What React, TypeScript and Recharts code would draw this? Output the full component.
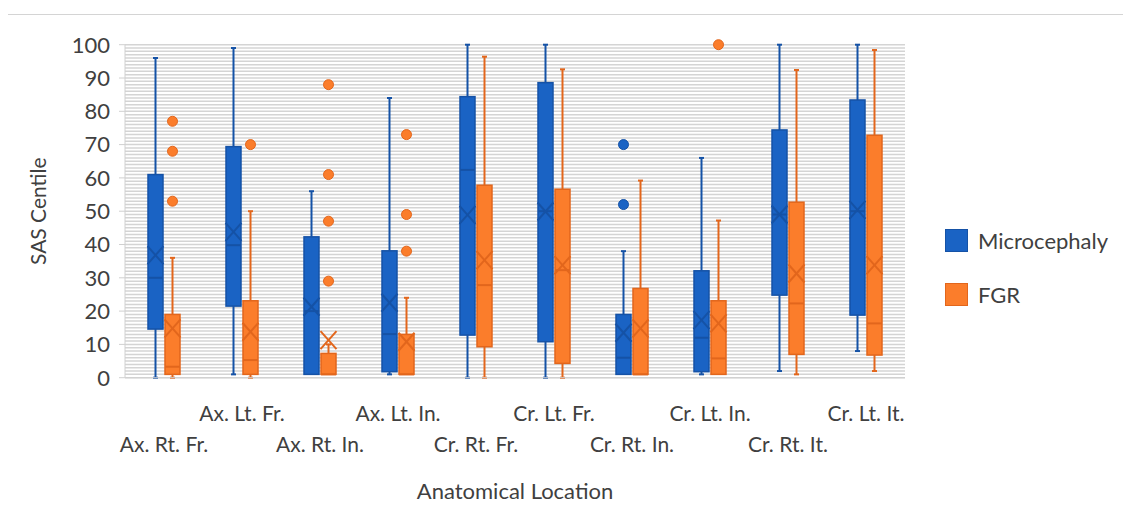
import React from 'react';
import { ComposedChart, Bar, XAxis, YAxis, CartesianGrid, Legend, Label } from 'recharts';

const categories = [
  'Ax. Rt. Fr.', 'Ax. Lt. Fr.', 'Ax. Rt. In.', 'Ax. Lt. In.', 'Cr. Rt. Fr.',
  'Cr. Lt. Fr.', 'Cr. Rt. In.', 'Cr. Lt. In.', 'Cr. Rt. It.', 'Cr. Lt. It.',
];
const seriesNames = ['Microcephaly', 'FGR'];

const microMin = [0, 1, 1, 1, 0, 0, 1, 1, 2, 8];
const microQ1 = [14.6, 21.5, 1, 1.8, 12.8, 10.8, 1, 1.8, 24.8, 18.8];
const microMedian = [30, 39.8, 20, 13.1, 62.4, 50, 6, 12, 49, 50];
const microQ3 = [61, 69.4, 42.3, 38.1, 84.4, 88.6, 19, 32.1, 74.4, 83.4];
const microMax = [96, 99, 56, 84, 100, 100, 38, 66, 100, 100];
const microMean = [36.8, 43.8, 21.3, 22.5, 48.9, 49.9, 13.5, 17.3, 49, 50.4];
const microOutliers: number[][] = [[], [], [], [], [], [], [70, 52], [], [], []];

const fgrMin = [0, 0, 1, 1, 0, 0, 1, 1, 1, 2];
const fgrQ1 = [1, 1, 1, 1, 9.3, 4.3, 1, 1, 7, 6.8];
const fgrMedian = [3.3, 5.3, 1, 1, 27.8, 32.3, 1, 5.8, 22.3, 16.3];
const fgrQ3 = [19, 23.1, 7.3, 13, 57.8, 56.6, 26.8, 23.1, 52.7, 72.8];
const fgrMax = [36, 50, 10, 24, 96.4, 92.6, 59.2, 47.2, 92.4, 98.4];
const fgrMean = [14.8, 13.8, 11.3, 10.8, 35.3, 33.8, 14.8, 16.3, 31.3, 33.8];
const fgrOutliers: number[][] = [[77, 68, 53], [70], [88, 61, 47, 29], [73, 49, 38], [], [], [], [100], [], []];

const yTicks = [0, 10, 20, 30, 40, 50, 60, 70, 80, 90, 100];
const gridValues = Array.from({ length: 101 }, (_, i) => i);

const data = categories.map((name, i) => ({
  name,
  microRange: [microMin[i], microMax[i]],
  fgrRange: [fgrMin[i], fgrMax[i]],
  micro: { min: microMin[i], q1: microQ1[i], median: microMedian[i], q3: microQ3[i], max: microMax[i], mean: microMean[i], outliers: microOutliers[i] },
  fgr: { min: fgrMin[i], q1: fgrQ1[i], median: fgrMedian[i], q3: fgrQ3[i], max: fgrMax[i], mean: fgrMean[i], outliers: fgrOutliers[i] },
}));

const BLUE = '#1a63c4';
const BLUE_DARK = '#1552a6';
const ORANGE = '#fb7d2b';
const ORANGE_DARK = '#e2661c';
const FONT = 'Lato, "Noto Sans", sans-serif';
const TEXT = '#404040';

const makeBoxShape = (key: 'micro' | 'fgr', fill: string, dark: string) => (props: any) => {
  const { x, y, width, height, payload } = props;
  if (!payload) return null;
  const s = payload[key];
  const top = Math.min(y, y + height);
  const bot = Math.max(y, y + height);
  const span = s.max - s.min || 1;
  const py = (v: number) => bot - ((v - s.min) / span) * (bot - top);
  const cx = x + width / 2;
  const yMax = py(s.max);
  const yQ3 = py(s.q3);
  const yQ1 = py(s.q1);
  const yMin = py(s.min);
  const yMed = py(s.median);
  const yMean = py(s.mean);
  return (
    <g>
      {yMax < yQ3 - 0.5 && (
        <g>
          <line x1={cx} x2={cx} y1={yMax} y2={yQ3} stroke={dark} strokeWidth={2} />
          <line x1={cx - 2.5} x2={cx + 2.5} y1={yMax} y2={yMax} stroke={dark} strokeWidth={2} />
        </g>
      )}
      {yMin > yQ1 + 0.5 && (
        <g>
          <line x1={cx} x2={cx} y1={yQ1} y2={yMin} stroke={dark} strokeWidth={2} />
          <line x1={cx - 2.5} x2={cx + 2.5} y1={yMin} y2={yMin} stroke={dark} strokeWidth={2} />
        </g>
      )}
      <rect x={x} y={yQ3} width={width} height={Math.max(1, yQ1 - yQ3)} fill={fill} stroke={dark} strokeWidth={1.5} />
      <line x1={x} x2={x + width} y1={yMed} y2={yMed} stroke={dark} strokeWidth={2} />
      <line x1={cx - 8} x2={cx + 8} y1={yMean - 9} y2={yMean + 9} stroke={dark} strokeWidth={2} />
      <line x1={cx - 8} x2={cx + 8} y1={yMean + 9} y2={yMean - 9} stroke={dark} strokeWidth={2} />
      {s.outliers.map((o: number, k: number) => (
        <circle key={k} cx={cx} cy={py(o)} r={5} fill={fill} stroke={dark} strokeWidth={1} />
      ))}
    </g>
  );
};

const XTick = (props: any) => {
  const { x, payload, index } = props;
  const lower = index % 2 === 0;
  return (
    <text x={x} y={lower ? 435 : 404} textAnchor="middle" dominantBaseline="central" fill={TEXT} fontSize={21} fontFamily={FONT}>
      {payload.value}
    </text>
  );
};

const LegendContent = (props: any) => {
  const items = [...(props.payload || [])].sort(
    (a: any, b: any) => seriesNames.indexOf(a.value) - seriesNames.indexOf(b.value)
  );
  return (
    <div style={{ fontFamily: FONT }}>
      {items.map((it: any, i: number) => (
        <div key={i} style={{ display: 'flex', alignItems: 'center', height: 23, marginBottom: 31 }}>
          <div style={{ width: 21, height: 21, background: it.color, border: `1px solid ${it.value === 'FGR' ? ORANGE_DARK : BLUE_DARK}`, marginRight: 10 }} />
          <span style={{ fontSize: 22, color: TEXT, lineHeight: '23px' }}>{it.value}</span>
        </div>
      ))}
    </div>
  );
};

export default function App() {
  return (
    <div style={{ position: 'relative', width: 1123, height: 512 }}>
      <ComposedChart
        width={1123}
        height={512}
        data={data}
        margin={{ top: 36.7, right: 226, bottom: 22.3, left: 7 }}
        barCategoryGap="30%"
        barGap={2}
      >
        <CartesianGrid
          vertical={false}
          stroke="#d4d4d4"
          strokeWidth={1.5}
          horizontalValues={gridValues}
        />
        <XAxis
          dataKey="name"
          height={120}
          tick={<XTick />}
          interval={0}
          tickLine={false}
          axisLine={{ stroke: '#d0d0d0' }}
        >
          <Label
            content={(p: any) => (
              <text x={p.viewBox.x + p.viewBox.width / 2} y={p.viewBox.y + 112.3} textAnchor="middle" dominantBaseline="central" fill={TEXT} fontSize={22} fontFamily={FONT}>
                Anatomical Location
              </text>
            )}
          />
        </XAxis>
        <YAxis
          width={110}
          domain={[0, 100]}
          ticks={yTicks}
          interval={0}
          tickSize={6}
          tickMargin={9}
          tick={{ fill: TEXT, fontSize: 22, fontFamily: FONT }}
          tickLine={{ stroke: '#d0d0d0' }}
          axisLine={{ stroke: '#d0d0d0' }}
        >
          <Label
            content={(p: any) => {
              const cx = p.viewBox.x + 23;
              const cy = p.viewBox.y + p.viewBox.height / 2;
              return (
                <text x={cx} y={cy} transform={`rotate(-90 ${cx} ${cy})`} textAnchor="middle" dominantBaseline="central" fill={TEXT} fontSize={21} fontFamily={FONT}>
                  SAS Centile
                </text>
              );
            }}
          />
        </YAxis>
        <Legend
          layout="vertical"
          align="center"
          verticalAlign="middle"
          content={<LegendContent />}
          wrapperStyle={{ left: 937, top: 221, width: 186 }}
        />
        <Bar dataKey="microRange" name="Microcephaly" fill={BLUE} barSize={15} isAnimationActive={false} shape={makeBoxShape('micro', BLUE, BLUE_DARK)} />
        <Bar dataKey="fgrRange" name="FGR" fill={ORANGE} barSize={15} isAnimationActive={false} shape={makeBoxShape('fgr', ORANGE, ORANGE_DARK)} />
      </ComposedChart>
      <div style={{ position: 'absolute', left: -1, top: 6, width: 1124, height: 492, borderTop: '1px solid #d4d4d4', borderLeft: '1px solid #d4d4d4', pointerEvents: 'none' }} />
    </div>
  );
}
